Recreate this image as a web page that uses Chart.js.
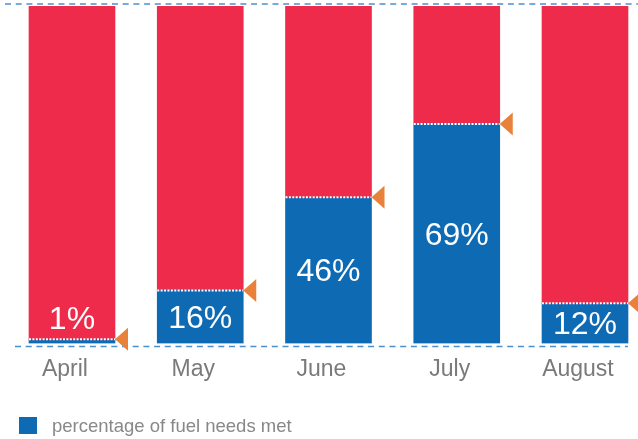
<!DOCTYPE html>
<html>
<head>
<meta charset="utf-8">
<script src="https://cdn.jsdelivr.net/npm/chart.js@4"></script>
<style>
  html, body { margin: 0; padding: 0; background: #fff; }
  #wrap { position: relative; width: 638px; height: 439px; overflow: hidden; }
  #legend { position: absolute; left: 19px; top: 415px; font: 18.5px "Liberation Sans", Arial, sans-serif; color: #888; }
  #legend span.box { position: absolute; left: 0; top: 2px; width: 18px; height: 17px; background: #0f6ab4; }
  #legend span.txt { position: absolute; left: 33px; top: 0; white-space: nowrap; }
</style>
</head>
<body>
<div id="wrap">
  <canvas id="fuelChart" width="638" height="439"></canvas>
  <div id="legend"><span class="box"></span><span class="txt">percentage of fuel needs met</span></div>
</div>
<script>
const months = ['April', 'May', 'June', 'July', 'August'];
const metValues = [1.2, 15.7, 43.3, 65.0, 11.9];
const unmetValues = [98.8, 84.3, 56.7, 35.0, 88.1];
const pctLabels = ['1%', '16%', '46%', '69%', '12%'];

const BLUE = '#0f6ab4';
const RED = '#ee2b4a';
const ORANGE = '#e8823a';
const DASH = '#4a90d0';

const markers = {
    id: 'markers',
    afterDatasetsDraw(chart) {
        const { ctx, chartArea, scales } = chart;
        const meta = chart.getDatasetMeta(0);

        // dashed reference lines at 0% and 100%
        const yTop = scales.y.getPixelForValue(100) - 2;
        const yBot = scales.y.getPixelForValue(0) + 3;
        ctx.save();
        ctx.strokeStyle = DASH;
        ctx.lineWidth = 1.5;
        ctx.setLineDash([6, 4.7]);
        ctx.beginPath();
        ctx.moveTo(chartArea.left + 5, yTop);
        ctx.lineTo(chartArea.right, yTop);
        ctx.moveTo(chartArea.left + 15, yBot);
        ctx.lineTo(chartArea.right - 10, yBot);
        ctx.stroke();
        ctx.restore();

        meta.data.forEach((bar, i) => {
            const half = bar.width / 2;
            const left = bar.x - half;
            const right = bar.x + half;
            const y = bar.y;

            // white dotted boundary
            ctx.save();
            ctx.strokeStyle = '#fff';
            ctx.lineWidth = 2;
            ctx.setLineDash([2, 1.4]);
            ctx.beginPath();
            ctx.moveTo(left, y);
            ctx.lineTo(right, y);
            ctx.stroke();
            ctx.restore();

            // orange pointer
            ctx.save();
            ctx.fillStyle = ORANGE;
            ctx.beginPath();
            ctx.moveTo(right, y);
            ctx.lineTo(right + 13, y - 11.5);
            ctx.lineTo(right + 13, y + 11.5);
            ctx.closePath();
            ctx.fill();
            ctx.restore();

            // value label
            const blueH = bar.base - y;
            const ly = blueH > 30 ? (y + bar.base) / 2 + 2 : y - 19;
            ctx.save();
            ctx.fillStyle = '#fff';
            ctx.font = '32px "Liberation Sans", Arial, sans-serif';
            ctx.textAlign = 'center';
            ctx.textBaseline = 'middle';
            ctx.fillText(pctLabels[i], bar.x, ly);
            ctx.restore();
        });
    }
};

const ctx = document.getElementById('fuelChart').getContext('2d');
new Chart(ctx, {
    type: 'bar',
    data: {
        datasets: [
            {
                label: 'percentage of fuel needs met',
                data: metValues.map((v, i) => ({ x: i, y: v })),
                backgroundColor: BLUE,
                barThickness: 86,
                borderWidth: 0
            },
            {
                label: 'unmet',
                data: unmetValues.map((v, i) => ({ x: i, y: v })),
                backgroundColor: RED,
                barThickness: 86,
                borderWidth: 0
            }
        ]
    },
    options: {
        responsive: false,
        animation: false,
        layout: { padding: { top: 6, bottom: 44, left: 0, right: 0 } },
        plugins: {
            legend: { display: false },
            tooltip: { enabled: false }
        },
        scales: {
            x: {
                type: 'linear',
                stacked: true,
                min: -0.5614,
                max: 4.4133,
                offset: false,
                grid: { display: false, drawTicks: false },
                border: { display: false },
                // month labels sit a touch left of the bar centres in the original
                afterBuildTicks: axis => { axis.ticks = months.map((m, i) => ({ value: i - 0.055 })); },
                ticks: {
                    padding: 12,
                    color: '#7a7a7a',
                    font: { family: '"Liberation Sans", Arial, sans-serif', size: 23 },
                    callback: v => months[Math.round(v)]
                }
            },
            y: {
                stacked: true,
                min: 0,
                max: 100,
                display: false
            }
        }
    },
    plugins: [markers]
});
</script>
</body>
</html>
